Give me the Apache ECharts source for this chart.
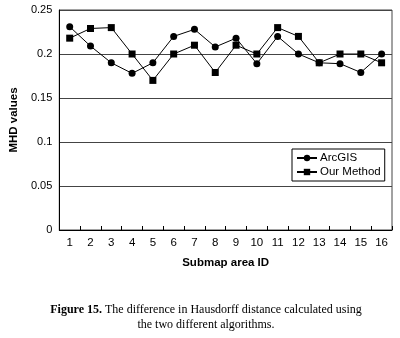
<!DOCTYPE html>
<html>
<head>
<meta charset="utf-8">
<script src="https://cdn.jsdelivr.net/npm/echarts@6/dist/echarts.min.js"></script>
<style>
  html, body { margin: 0; padding: 0; background: #fff; }
  #container { width: 400px; height: 338px; }
</style>
</head>
<body>
<div id="container"></div>
<script>
const container = document.getElementById('container');
const chartIns = echarts.init(container, undefined, { renderer: 'canvas' });

// submap IDs and values
const areaIds = ['1', '2', '3', '4', '5', '6', '7', '8', '9', '10', '11', '12', '13', '14', '15', '16'];
const arcgisValues = [0.231, 0.209, 0.19, 0.178, 0.19, 0.22, 0.228, 0.208, 0.218, 0.189, 0.22, 0.2, 0.19, 0.189, 0.179, 0.2];
const ourMethodValues = [0.218, 0.229, 0.23, 0.2, 0.17, 0.2, 0.21, 0.179, 0.21, 0.2, 0.23, 0.22, 0.19, 0.2, 0.2, 0.19];
const yTicks = [0, 0.05, 0.1, 0.15, 0.2, 0.25];

const FONT = 'Liberation Sans, Arial, sans-serif';

const option = {
  backgroundColor: '#fff',
  animation: false,
  title: {
    left: 201,
    top: 297,
    textAlign: 'center',
    text: '{b|Figure 15.} The difference in Hausdorff distance calculated using\nthe two different algorithms.',
    textStyle: {
      fontFamily: 'Liberation Serif, Times New Roman, serif',
      fontSize: 12,
      fontWeight: 'normal',
      color: '#000',
      lineHeight: 15,
      rich: {
        b: { fontWeight: 'bold', fontSize: 12, fontFamily: 'Liberation Serif, serif', color: '#000' }
      }
    }
  },
  legend: {
    orient: 'vertical',
    left: 292,
    top: 149,
    width: 91,
    padding: [3, 4, 3, 4],
    itemGap: 2,
    itemWidth: 20,
    itemHeight: 8,
    borderColor: '#000',
    borderWidth: 1,
    backgroundColor: '#fff',
    textStyle: { fontFamily: FONT, fontSize: 11.5, color: '#000', padding: [0, 0, 0, -2] },
    data: ['ArcGIS', 'Our Method']
  },
  grid: {
    left: 50,
    right: 8,
    top: 10,
    bottom: 108,
    show: true,
    borderColor: '#444',
    borderWidth: 1
  },
  xAxis: {
    type: 'category',
    data: areaIds,
    boundaryGap: true,
    name: 'Submap area ID',
    nameLocation: 'middle',
    nameGap: 27,
    nameTextStyle: { fontFamily: FONT, fontSize: 11.5, fontWeight: 'bold', color: '#000' },
    axisLine: { lineStyle: { color: '#000', width: 1 } },
    axisTick: { show: true, inside: true, length: 4, lineStyle: { color: '#000' } },
    axisLabel: { fontFamily: FONT, fontSize: 11.5, color: '#000', margin: 7 }
  },
  yAxis: {
    type: 'value',
    min: yTicks[0],
    max: yTicks[yTicks.length - 1],
    interval: 0.05,
    name: 'MHD values',
    nameLocation: 'middle',
    nameGap: 39,
    nameTextStyle: { fontFamily: FONT, fontSize: 11.5, fontWeight: 'bold', color: '#000' },
    axisLine: { show: true, lineStyle: { color: '#000', width: 1 } },
    axisTick: { show: false },
    axisLabel: { fontFamily: FONT, fontSize: 11, color: '#000', margin: 7 },
    splitLine: { show: true, lineStyle: { color: '#444', width: 1 } }
  },
  series: [
    {
      name: 'ArcGIS',
      type: 'line',
      data: arcgisValues,
      symbol: 'circle',
      symbolSize: 7,
      itemStyle: { color: '#000' },
      lineStyle: { color: '#000', width: 1 }
    },
    {
      name: 'Our Method',
      type: 'line',
      data: ourMethodValues,
      symbol: 'rect',
      symbolSize: 7,
      itemStyle: { color: '#000' },
      lineStyle: { color: '#000', width: 1 }
    }
  ]
};

chartIns.setOption(option);
</script>
</body>
</html>
